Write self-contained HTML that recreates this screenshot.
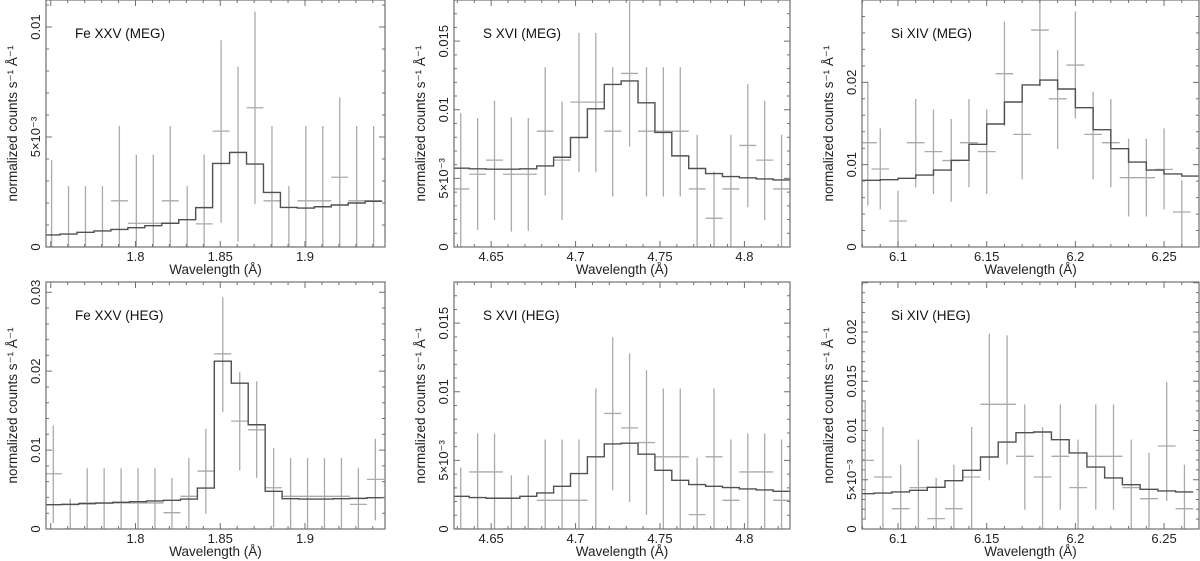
<!DOCTYPE html>
<html><head><meta charset="utf-8">
<style>
html,body{margin:0;padding:0;background:#fff;}
svg{display:block;font-family:"Liberation Sans",Arial,sans-serif;}
</style></head>
<body>
<svg id="fig" width="1200" height="561" viewBox="0 0 1200 561"></svg>
<script>
// ---------- Panel 1: Fe XXV (MEG) ----------
const p1X   = [1.7505,1.7605,1.7705,1.7805,1.7905,1.8005,1.8105,1.8205,1.8305,1.8405,1.8505,1.8605,1.8705,1.8805,1.8905,1.9005,1.9105,1.9205,1.9305,1.9405];
const p1Val = [0,0,0,0,0.0021,0.00108,0.00108,0.0021,0,0.00105,0.00527,0.0043,0.00633,0.0021,0,0.0021,0.0021,0.00317,0.0021,0.0021];
const p1Lo  = [0,0,0,0,0,0,0,0,0,0,0.0011,0.00024,0.00195,0,0,0,0,0,0,0];
const p1Hi  = [0.00395,0.00277,0.00277,0.00277,0.0055,0.0042,0.0042,0.0055,0.00277,0.0042,0.0094,0.0082,0.0107,0.0055,0.00277,0.0055,0.0055,0.0068,0.0055,0.0055];
const p1MX  = p1X;
const p1MY  = [0.00055,0.00059,0.00067,0.00073,0.0008,0.00088,0.00097,0.00108,0.00124,0.00179,0.0038,0.0043,0.00377,0.00248,0.0018,0.00177,0.00183,0.00191,0.002,0.00208];
// ---------- Panel 2: S XVI (MEG) ----------
const p2X   = [4.632,4.642,4.652,4.662,4.672,4.682,4.692,4.702,4.712,4.722,4.732,4.742,4.752,4.762,4.772,4.782,4.792,4.802,4.812,4.822];
const p2Val = [0.00423,0.0053,0.00633,0.0053,0.0053,0.00844,0.00633,0.01056,0.01056,0.00844,0.01265,0.00844,0.00844,0.00844,0.00423,0.00209,0.00423,0.0074,0.00633,0.00423];
const p2Lo  = [0,0.00124,0.00197,0.00112,0.00118,0.00375,0.00197,0.00545,0.00545,0.00368,0.00732,0.00368,0.00368,0.00368,0,0,0,0.0029,0.00197,0];
const p2Hi  = [0.00976,0.0094,0.01066,0.00946,0.0094,0.01311,0.0106,0.0156,0.0156,0.01311,0.0179,0.01311,0.01311,0.01311,0.00817,0.0055,0.00817,0.01187,0.01066,0.00817];
const p2MX  = p2X;
const p2MY  = [0.00574,0.0057,0.00567,0.00567,0.0057,0.00591,0.00654,0.00798,0.01007,0.01185,0.0121,0.01051,0.00835,0.00664,0.00572,0.00535,0.00513,0.00504,0.00496,0.00489];
// ---------- Panel 3: Si XIV (MEG) ----------
const p3X   = [6.083,6.09,6.10,6.11,6.12,6.13,6.14,6.15,6.16,6.17,6.18,6.19,6.20,6.21,6.22,6.23,6.24,6.25,6.26];
const p3Val = [0.01267,0.00947,0.00316,0.01267,0.01158,0.0105,0.01267,0.01158,0.02105,0.01368,0.02635,0.018,0.0221,0.01368,0.01267,0.00842,0.00842,0.00943,0.00425];
const p3Lo  = [0.00502,0.00457,0,0.00725,0.00644,0.0055,0.00725,0.00644,0.0147,0.00822,0.0195,0.0119,0.0156,0.00822,0.00725,0.0037,0.0037,0.00455,0];
const p3Hi  = [0.02008,0.01441,0.00684,0.01798,0.01672,0.01555,0.01798,0.01672,0.02737,0.01887,0.0335,0.0239,0.0286,0.01887,0.01798,0.01315,0.01315,0.01441,0.0081];
const p3MX  = [6.085,6.095,6.105,6.115,6.125,6.135,6.145,6.155,6.165,6.175,6.185,6.195,6.205,6.215,6.225,6.235,6.245,6.255,6.265];
const p3MY  = [0.0081,0.00818,0.00834,0.00874,0.00935,0.01053,0.01247,0.01494,0.01761,0.01968,0.02028,0.01919,0.01692,0.01425,0.01194,0.01032,0.00935,0.00887,0.00862];
// ---------- Panel 4: Fe XXV (HEG) ----------
const p4X   = [1.7515,1.7615,1.7715,1.7815,1.7915,1.8015,1.8115,1.8215,1.8315,1.8415,1.8515,1.8615,1.8715,1.8815,1.8915,1.9015,1.9115,1.9215,1.9315,1.9415];
const p4Val = [0.007,0,0.0033,0.0033,0.0033,0.0033,0.0033,0.00207,0.00414,0.00734,0.0222,0.01367,0.01257,0.00523,0.00414,0.00414,0.00414,0.00414,0.00312,0.00629];
const p4Lo  = [0.00076,0,0,0,0,0,0,0,0,0.00194,0.01481,0.00743,0.00646,0.00021,0,0,0,0,0,0.0011];
const p4Hi  = [0.01312,0.00384,0.0077,0.0077,0.0077,0.0077,0.0077,0.00646,0.009,0.0127,0.02937,0.01987,0.01873,0.01025,0.009,0.009,0.009,0.009,0.00776,0.01143];
const p4MX  = p4X;
const p4MY  = [0.00308,0.00312,0.00321,0.00329,0.00338,0.00346,0.00355,0.00363,0.0038,0.00519,0.02127,0.01848,0.01321,0.00477,0.00384,0.0038,0.0038,0.00384,0.00388,0.00397];
// ---------- Panel 5: S XVI (HEG) ----------
const p5X   = [4.632,4.642,4.652,4.662,4.672,4.682,4.692,4.702,4.712,4.722,4.732,4.742,4.752,4.762,4.772,4.782,4.792,4.802,4.812,4.822];
const p5Val = [0,0.00416,0.00416,0,0,0.00209,0.00209,0.00209,0,0.00842,0.00737,0.0063,0.00526,0.00526,0.00105,0.00526,0.00209,0.00416,0.00416,0.00209];
const p5Lo  = [0,0,0,0,0,0,0,0,0,0.00282,0.00197,0.00105,0,0,0,0,0,0,0,0];
const p5Hi  = [0.00448,0.00696,0.00696,0.00392,0.00392,0.00652,0.00652,0.00652,0.01024,0.01397,0.0128,0.01158,0.01024,0.01024,0.00518,0.01024,0.00652,0.00696,0.00696,0.00652];
const p5MX  = p5X;
const p5MY  = [0.00238,0.00229,0.00224,0.00224,0.00238,0.00263,0.00311,0.00404,0.00526,0.0062,0.00625,0.00545,0.00428,0.00355,0.00324,0.00311,0.00302,0.00292,0.00285,0.00275];
// ---------- Panel 6: Si XIV (HEG) ----------
const p6X   = [6.0815,6.0915,6.1015,6.1115,6.1215,6.1315,6.1415,6.1515,6.1615,6.1715,6.1815,6.1915,6.2015,6.2115,6.2215,6.2315,6.2415,6.2515,6.2615];
const p6Val = [0.00697,0.00528,0.00206,0.0042,0.00105,0.00206,0.00528,0.01266,0.01266,0.00738,0.00528,0.00738,0.0042,0.00738,0.00738,0.0042,0.00308,0.00843,0.00206];
const p6Lo  = [0.00095,0,0,0,0,0,0,0.00494,0.00656,0.00196,0,0.00196,0,0.00196,0.00196,0,0,0.00284,0];
const p6Hi  = [0.01306,0.01036,0.00653,0.00907,0.00518,0.00653,0.01036,0.01983,0.01966,0.01266,0.01036,0.01266,0.00907,0.01266,0.01266,0.00907,0.00775,0.01492,0.00653];
const p6MX  = p6X;
const p6MY  = [0.00359,0.00365,0.00376,0.00393,0.00423,0.00491,0.00596,0.00731,0.00883,0.00978,0.00985,0.00907,0.00772,0.00629,0.00518,0.0045,0.00403,0.00386,0.00376];

// tick label arrays
const xTicksFe = [1.8,1.85,1.9];      const xLabFe = ["1.8","1.85","1.9"];
const xTicksS  = [4.65,4.7,4.75,4.8]; const xLabS  = ["4.65","4.7","4.75","4.8"];
const xTicksSi = [6.1,6.15,6.2,6.25]; const xLabSi = ["6.1","6.15","6.2","6.25"];
const yT1 = [0,0.005,0.01];            const yL1 = ["0","5×10⁻³","0.01"];
const yT2 = [0,0.005,0.01,0.015];      const yL2 = ["0","5×10⁻³","0.01","0.015"];
const yT3 = [0,0.01,0.02];             const yL3 = ["0","0.01","0.02"];
const yT4 = [0,0.01,0.02,0.03];        const yL4 = ["0","0.01","0.02","0.03"];
const yT6 = [0,0.005,0.01,0.015,0.02]; const yL6 = ["0","5×10⁻³","0.01","0.015","0.02"];

const NS = "http://www.w3.org/2000/svg";
const svg = document.getElementById('fig');
function mk(tag, attrs, parent){
  const e = document.createElementNS(NS, tag);
  for (const k in attrs) e.setAttribute(k, attrs[k]);
  (parent||svg).appendChild(e);
  return e;
}

const layout = [
 {id:'fe-meg', label:'Fe XXV (MEG)', L:46, R:385, T:0, B:247, xmin:1.7472, xmax:1.9472, ymax:0.01123, minorY:0.001, xs:p1X, v:p1Val, lo:p1Lo, hi:p1Hi, mx:p1MX, my:p1MY, xt:xTicksFe, xl:xLabFe, yt:yT1, yl:yL1},
 {id:'s-meg', label:'S XVI (MEG)', L:454, R:790, T:0, B:247, xmin:4.628, xmax:4.827, ymax:0.018, minorY:0.001, xs:p2X, v:p2Val, lo:p2Lo, hi:p2Hi, mx:p2MX, my:p2MY, xt:xTicksS, xl:xLabS, yt:yT2, yl:yL2},
 {id:'si-meg', label:'Si XIV (MEG)', L:862, R:1199, T:0, B:247, xmin:6.0797, xmax:6.2697, ymax:0.030, minorY:0.002, xs:p3X, v:p3Val, lo:p3Lo, hi:p3Hi, mx:p3MX, my:p3MY, xt:xTicksSi, xl:xLabSi, yt:yT3, yl:yL3},
 {id:'fe-heg', label:'Fe XXV (HEG)', L:46, R:385, T:282, B:529, xmin:1.7472, xmax:1.9472, ymax:0.0313, minorY:0.002, xs:p4X, v:p4Val, lo:p4Lo, hi:p4Hi, mx:p4MX, my:p4MY, xt:xTicksFe, xl:xLabFe, yt:yT4, yl:yL4},
 {id:'s-heg', label:'S XVI (HEG)', L:454, R:790, T:282, B:529, xmin:4.628, xmax:4.827, ymax:0.018, minorY:0.001, xs:p5X, v:p5Val, lo:p5Lo, hi:p5Hi, mx:p5MX, my:p5MY, xt:xTicksS, xl:xLabS, yt:yT2, yl:yL2},
 {id:'si-heg', label:'Si XIV (HEG)', L:862, R:1199, T:282, B:529, xmin:6.0797, xmax:6.2697, ymax:0.02508, minorY:0.001, xs:p6X, v:p6Val, lo:p6Lo, hi:p6Hi, mx:p6MX, my:p6MY, xt:xTicksSi, xl:xLabSi, yt:yT6, yl:yL6}
];

layout.forEach((P, pi) => {
  const g = mk('g', {});
  
  
  const sx = v => P.L + (v - P.xmin) / (P.xmax - P.xmin) * (P.R - P.L);
  const sy = v => P.B - v / P.ymax * (P.B - P.T);
  const cid = 'clip' + pi;
  const cp = mk('clipPath', {id: cid}, g);
  mk('rect', {x:P.L, y:P.T, width:P.R-P.L, height:P.B-P.T}, cp);
  const plot = mk('g', {'clip-path':'url(#'+cid+')'}, g);

  const hw = 0.005;
  P.xs.forEach((x, i) => {
    const d = mk('path', {
      d: 'M'+sx(x-hw)+','+sy(P.v[i])+'H'+sx(x+hw)+'M'+sx(x)+','+sy(P.lo[i])+'V'+sy(P.hi[i]),
      stroke:'#aaaaaa', 'stroke-width':1.3, fill:'none'}, plot);
    
    
  });
  let dd = '';
  P.mx.forEach((x, i) => {
    const y = sy(P.my[i]);
    dd += (i === 0 ? 'M' + sx(x-hw) + ',' + y : 'V' + y) + 'H' + sx(x+hw);
  });
  const m = mk('path', {d: dd, stroke:'#505050', 'stroke-width':1.4, fill:'none'}, plot);
  
  

  const fr = mk('rect', {x:P.L, y:P.T, width:P.R-P.L, height:P.B-P.T, fill:'none', stroke:'#707070', 'stroke-width':1.2}, g);
  
  

  let td = '';
  const n0 = Math.ceil(P.xmin * 100 - 1e-6), n1 = Math.floor(P.xmax * 100 + 1e-6);
  for (let n = n0; n <= n1; n++) {
    const X = sx(n / 100);
    const len = (n % 5 === 0) ? 6 : 3;
    td += 'M'+X+','+P.B+'v'+(-len)+'M'+X+','+P.T+'v'+len;
  }
  const ny = Math.floor(P.ymax / P.minorY + 1e-6);
  const majorY = P.yt[1];
  for (let n = 0; n <= ny; n++) {
    const v = n * P.minorY;
    const Y = sy(v);
    const isMaj = Math.abs(v / majorY - Math.round(v / majorY)) < 1e-6;
    const len = isMaj ? 6 : 3;
    td += 'M'+P.L+','+Y+'h'+len+'M'+P.R+','+Y+'h'+(-len);
  }
  mk('path', {d: td, stroke:'#707070', 'stroke-width':1, fill:'none'}, g);

  P.xt.forEach((t, i) => {
    const tx = mk('text', {x: sx(t), y: P.B + 14, 'font-size':13, 'text-anchor':'middle', fill:'#222'}, g);
    tx.textContent = P.xl[i];
    
    
  });
  P.yt.forEach((t, i) => {
    const Y = sy(t);
    const ty = mk('text', {x: P.L - 6, y: Y, 'font-size':13, 'text-anchor':'middle', fill:'#222',
      transform:'rotate(-90 '+(P.L-6)+' '+Y+')'}, g);
    ty.textContent = P.yl[i];
    
    
  });
  const xt = mk('text', {x:(P.L+P.R)/2, y:P.B + 27, 'font-size':13.5, 'text-anchor':'middle', fill:'#222'}, g);
  xt.textContent = 'Wavelength (Å)';
  
  
  const cy = (P.T + P.B) / 2, cx = P.L - 29;
  const yt = mk('text', {x:cx, y:cy, 'font-size':13.5, 'text-anchor':'middle', fill:'#222',
    transform:'rotate(-90 '+cx+' '+cy+')'}, g);
  yt.textContent = 'normalized counts s⁻¹ Å⁻¹';
  
  
  const lb = mk('text', {x:P.L + 29, y:P.T + 38, 'font-size':13.5, fill:'#111'}, g);
  lb.textContent = P.label;
  
  
});
</script>
</body></html>
